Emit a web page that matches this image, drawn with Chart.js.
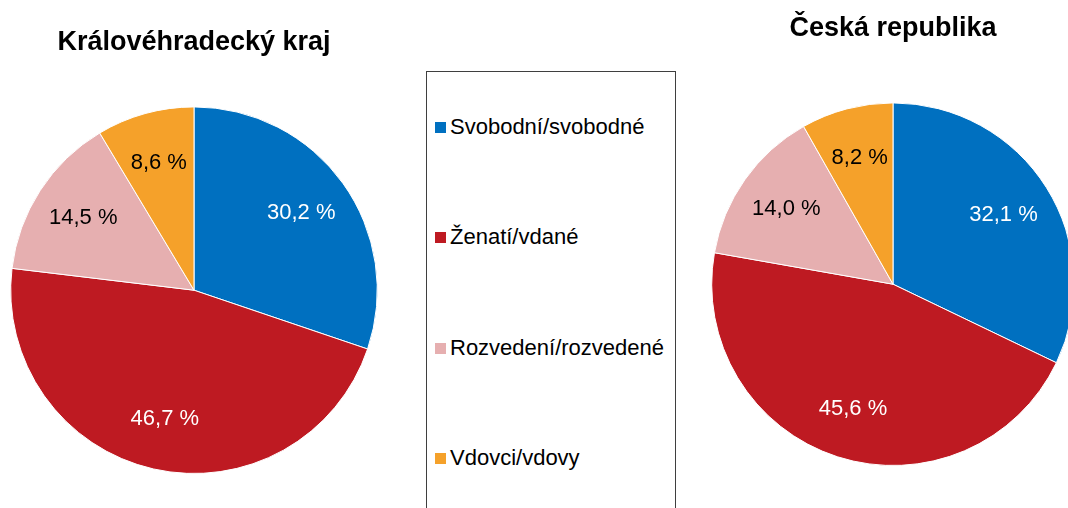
<!DOCTYPE html>
<html>
<head>
<meta charset="utf-8">
<script src="https://cdn.jsdelivr.net/npm/chart.js@4"></script>
<style>
  html, body { margin: 0; padding: 0; background: #fff; overflow: hidden; }
  body { width: 1068px; height: 508px; position: relative; font-family: "Liberation Sans", Arial, sans-serif; }
  .box { position: absolute; }
  #legend {
    position: absolute; left: 426px; top: 71px; width: 250px; height: 460px;
    border: 1px solid #3f3f3f; box-sizing: border-box;
  }
  .item { position: absolute; left: 8px; height: 24px; display: flex; align-items: center;
          font-size: 22px; color: #000; white-space: nowrap; }
  .item span.sw { display: inline-block; width: 11px; height: 11px; margin-right: 4px; }
</style>
</head>
<body>
<div class="box" style="left:0;top:0;width:400px;height:508px"><canvas id="krajChart"></canvas></div>
<div id="legend"></div>
<div class="box" style="left:690px;top:0;width:400px;height:508px"><canvas id="crChart"></canvas></div>

<script>
const categories = ['Svobodní/svobodné', 'Ženatí/vdané', 'Rozvedení/rozvedené', 'Vdovci/vdovy'];
const krajValues = [30.2, 46.7, 14.5, 8.6];
const crValues = [32.1, 45.6, 14.0, 8.2];
const colors = ['#0070c0', '#be1a22', '#e6afb0', '#f5a12a'];
const labelColors = ['#ffffff', '#ffffff', '#000000', '#000000'];

// popisky uvnitř výsečí
const sliceLabels = {
    id: 'sliceLabels',
    afterDatasetsDraw(chart) {
        const ctx = chart.ctx;
        const meta = chart.getDatasetMeta(0);
        const values = chart.data.datasets[0].data;
        ctx.save();
        ctx.font = '22px "Liberation Sans", Arial, sans-serif';
        ctx.textAlign = 'center';
        ctx.textBaseline = 'middle';
        meta.data.forEach((arc, i) => {
            const mid = (arc.startAngle + arc.endAngle) / 2;
            const r = arc.outerRadius * 0.72;
            ctx.fillStyle = labelColors[i];
            ctx.fillText(values[i].toFixed(1).replace('.', ',') + ' %', arc.x + Math.cos(mid) * r, arc.y + Math.sin(mid) * r);
        });
        ctx.restore();
    }
};

function makePie(id, title, values, padding, titlePadding) {
    return new Chart(document.getElementById(id), {
        type: 'pie',
        data: {
            labels: categories,
            datasets: [{
                data: values,
                backgroundColor: colors,
                borderColor: '#ffffff',
                borderWidth: 1,
            }]
        },
        options: {
            responsive: true,
            maintainAspectRatio: false,
            animation: false,
            layout: { padding: padding },
            plugins: {
                legend: { display: false },
                tooltip: { enabled: false },
                title: {
                    display: true,
                    text: title,
                    color: '#000',
                    font: { family: '"Liberation Sans", Arial, sans-serif', size: 27, weight: 'bold' },
                    padding: titlePadding
                }
            }
        },
        plugins: [sliceLabels]
    });
}

makePie('krajChart', 'Královéhradecký kraj', krajValues,
    { left: 10, right: 22, top: 0, bottom: 34 }, { top: 26, bottom: 48 });
makePie('crChart', 'Česká republika', crValues,
    { left: 21, right: 15, top: 0, bottom: 42 }, { top: 12, bottom: 58 });

const legend = document.getElementById('legend');
const legendTops = [43, 153, 264, 374];
categories.forEach((c, i) => {
    const d = document.createElement('div');
    d.className = 'item';
    d.style.top = legendTops[i] + 'px';
    d.innerHTML = '<span class="sw" style="background:' + colors[i] + '"></span>' + c;
    legend.appendChild(d);
});
</script>
</body>
</html>
